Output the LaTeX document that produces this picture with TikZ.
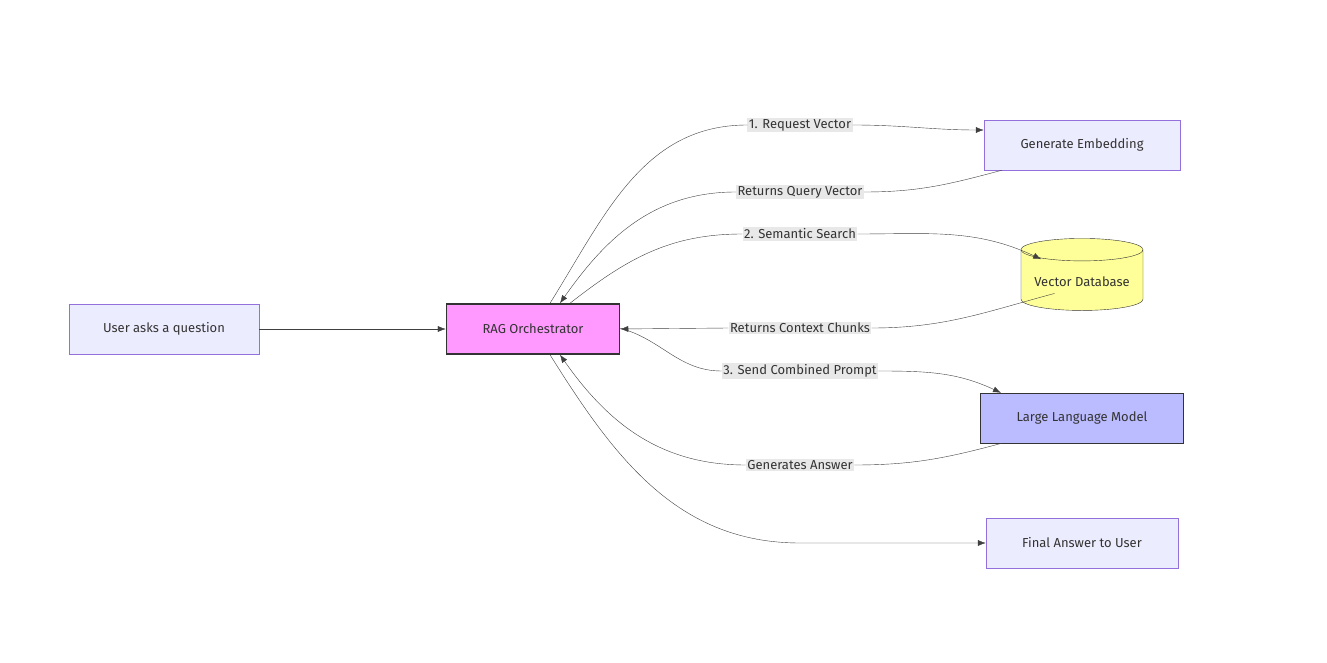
\documentclass[tikz,border=0pt]{standalone}
\usepackage{fontspec}
\setmainfont{Fira Sans}
\usetikzlibrary{shapes.geometric,arrows.meta}
\definecolor{boxfill}{HTML}{ECECFF}
\definecolor{boxline}{HTML}{9370DB}
\definecolor{ragfill}{HTML}{FF99FF}
\definecolor{dbfill}{HTML}{FFFF99}
\definecolor{llmfill}{HTML}{BBBBFF}
\definecolor{lblfill}{HTML}{E8E8E8}
\tikzset{
    box/.style={rectangle, draw=boxline, fill=boxfill, minimum height=50pt, inner sep=0pt},
    lbl/.style={fill=lblfill, inner sep=1.5pt, text=black!80},
    flow/.style={draw=black!75, -{Latex[length=8pt,width=6pt]}}
}
\begin{document}
\begin{tikzpicture}[x=1pt,y=1pt,font=\fontsize{13}{15}\selectfont\color{black!80}]
    \useasboundingbox (0,0) rectangle (1327,662);
    \node[box, minimum width=190pt] (user) at (164,333) {User asks a question};
    \node[box, draw=black!80, fill=ragfill, line width=1.5pt, minimum width=173pt] (rag) at (533,333) {RAG Orchestrator};
    \node[box, minimum width=196pt] (embed) at (1082,517) {Generate Embedding};
    \node[cylinder, shape border rotate=90, aspect=0.22, draw=black!80, fill=dbfill, minimum width=122pt, minimum height=72pt] (db) at (1082,380) {Vector Database};
    \node[box, draw=black!80, fill=llmfill, minimum width=203pt] (llm) at (1082,244) {Large Language Model};
    \node[box, minimum width=192pt] (final) at (1082,119) {Final Answer to User};
    % edge labels
    \node[lbl] (l1) at (800,537) {1. Request Vector};
    \node[lbl] (l2) at (800,470) {Returns Query Vector};
    \node[lbl] (l3) at (800,428) {2. Semantic Search};
    \node[lbl] (l4) at (800,334) {Returns Context Chunks};
    \node[lbl] (l5) at (800,291) {3. Send Combined Prompt};
    \node[lbl] (l6) at (800,197) {Generates Answer};
    % connectors
    \draw[flow] (user) -- (rag);
    \draw[flow] ([xshift=17pt]rag.north) to[out=58,in=180] (l1.west) (l1.east) to[out=0,in=180] ([yshift=15pt]embed.west);
    \draw[flow] ([xshift=-80pt]embed.south) to[out=195,in=0] (l2.east) (l2.west) to[out=180,in=55] ([xshift=27pt]rag.north);
    \draw[flow] ([xshift=37pt]rag.north) to[out=38,in=180] (l3.west) (l3.east) to[out=0,in=155] ([yshift=-18pt]db.north west);
    \draw[flow] ([yshift=16pt]db.south west) to[out=195,in=0] (l4.east) (l4.west) -- (rag.east);
    \draw[flow] ([yshift=-25pt]rag.north east) to[out=-15,in=180] (l5.west) (l5.east) to[out=0,in=155] ([xshift=-81pt]llm.north);
    \draw[flow] ([xshift=-80pt]llm.south) to[out=195,in=0] (l6.east) (l6.west) to[out=180,in=-55] ([xshift=27pt]rag.south);
    \draw[flow] ([xshift=17pt]rag.south) to[out=-58,in=180] (800,119) -- (final.west);
\end{tikzpicture}
\end{document}
